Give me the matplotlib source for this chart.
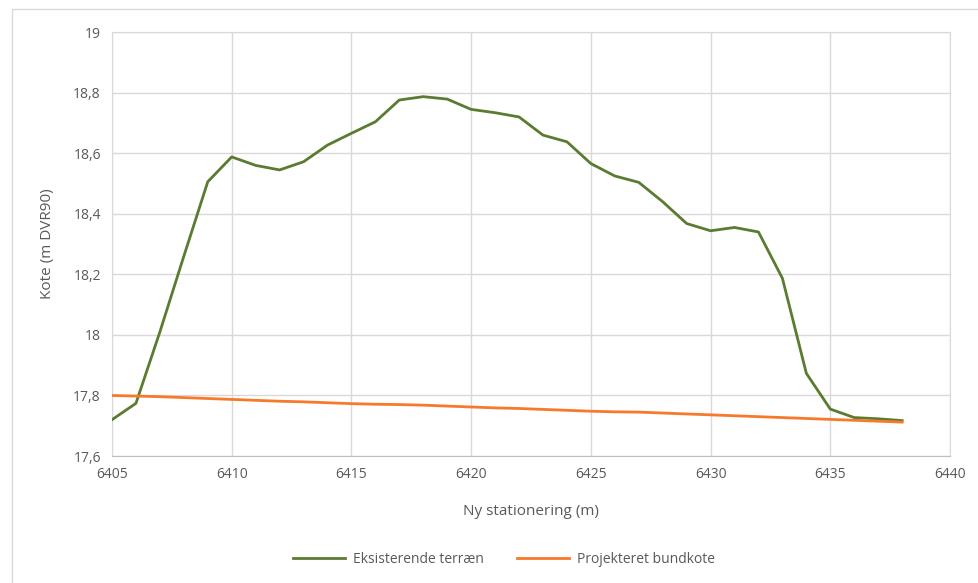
import numpy as np
import matplotlib.pyplot as plt
from matplotlib.patches import Rectangle

# Stationing (m) and levels (m DVR90)
station = np.arange(6405, 6439)
terrain = [17.72, 17.774, 18.01, 18.26, 18.506, 18.588, 18.56, 18.545, 18.572, 18.627,
           18.666, 18.704, 18.776, 18.787, 18.779, 18.745, 18.734, 18.72, 18.66, 18.638,
           18.566, 18.525, 18.504, 18.44, 18.368, 18.344, 18.355, 18.34, 18.187, 17.873,
           17.755, 17.727, 17.723, 17.717]
bundkote = [17.800, 17.798, 17.796, 17.793, 17.790, 17.787, 17.784, 17.781, 17.779, 17.776,
            17.773, 17.771, 17.770, 17.768, 17.765, 17.762, 17.759, 17.757, 17.754, 17.751,
            17.748, 17.746, 17.745, 17.742, 17.739, 17.736, 17.733, 17.730, 17.727, 17.724,
            17.721, 17.718, 17.715, 17.712]
series_names = ["Eksisterende terræn", "Projekteret bundkote"]

plt.rcParams['font.family'] = ['Open Sans', 'DejaVu Sans']
text_col = '#595959'
grid_col = '#d9d9d9'

fig = plt.figure(figsize=(9.79, 5.83), dpi=100)
ax = fig.add_axes([0.1144, 0.2178, 0.856, 0.727])

ax.plot(station, terrain, color='#5b7b31', lw=2.0, label=series_names[0], zorder=3)
ax.plot(station, bundkote, color='#f77a2a', lw=2.0, label=series_names[1], zorder=3)

ax.set_xlim(6405, 6440)
ax.set_ylim(17.6, 19.0)
ax.set_xticks(np.arange(6405, 6441, 5))
ax.set_yticks(np.arange(17.6, 19.01, 0.2))
ax.set_yticklabels(['17,6', '17,8', '18', '18,2', '18,4', '18,6', '18,8', '19'])
ax.grid(True, color=grid_col, lw=1.0)
ax.set_axisbelow(True)
for s in ax.spines.values():
    s.set_color(grid_col)
ax.spines['bottom'].set_color('#bfbfbf')
ax.tick_params(length=0, labelsize=10, colors=text_col, pad=8)

ax.set_xlabel('Ny stationering (m)', fontsize=11, color=text_col, labelpad=16)
ax.set_ylabel('Kote (m DVR90)', fontsize=11, color=text_col, labelpad=13)

fig.legend(loc='center', bbox_to_anchor=(0.515, 0.04), ncol=2, frameon=False,
           fontsize=10, labelcolor=text_col, handlelength=3.7, handletextpad=0.6,
           columnspacing=2.4)

# chart area border
fig.patches.append(Rectangle((0.012, -0.01), 0.99, 0.995, transform=fig.transFigure,
                             fill=False, edgecolor='#d9d9d9', lw=1.0))

fig.savefig('out.png', dpi=100)
